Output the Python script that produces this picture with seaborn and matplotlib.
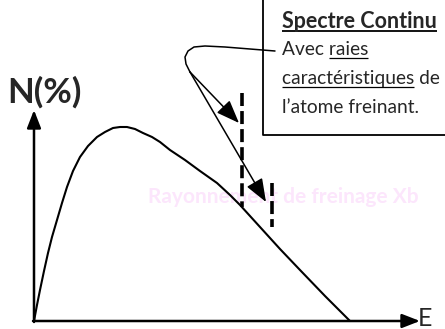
import matplotlib
matplotlib.use("Agg")
import matplotlib.pyplot as plt
import seaborn as sns
import pandas as pd

# ---- data (pixel-like units, y grows downward) ----
curve_E = [34, 37, 40, 44, 48, 52, 57, 62, 67, 73, 80, 88, 97, 105, 113, 120, 127,
           135, 143, 152, 160, 170, 185, 200, 217, 230, 240, 250, 260, 270, 280, 300, 325, 350]
curve_N = [321, 305, 290, 271, 253, 237, 220, 203, 187, 171, 157, 146, 137, 132, 128, 127, 127,
           129, 133, 137, 142, 150, 160, 171, 183, 195, 205, 216, 227, 238, 249, 270, 296, 321]

line1_x, line1_y = [242, 242], [93, 207]      # dashed line (raie 1)
line2_x, line2_y = [272, 272], [183, 227]      # dashed line (raie 2)

callout_x = [275, 250, 225, 205, 194, 188, 185, 186, 190]
callout_y = [51, 49, 47, 46, 47, 51, 57, 64, 72]

title_txt = "Spectre Continu"
body_lines = ["Avec raies", "caractéristiques de", "l’atome freinant."]

sns.set_style("white")
plt.rcParams['font.family'] = ['Lato', 'DejaVu Sans']

fig = plt.figure(figsize=(4.45, 3.29), dpi=100)
ax = fig.add_axes([0, 0, 1, 1])
ax.set_xlim(0, 445)
ax.set_ylim(329, 0)
ax.axis('off')

# faint pink ghost text
ax.text(148, 203, 'Rayonnement de freinage Xb', fontsize=15, fontweight='bold',
        color='#fce6fc', va='baseline', ha='left', zorder=0)

# spectrum curve
df = pd.DataFrame({'E': curve_E, 'N': curve_N})
sns.lineplot(data=df, x='E', y='N', sort=False, color='black', lw=1.5, ax=ax)

# axes arrows
arr = dict(arrowstyle='-|>,head_length=0.9,head_width=0.35', color='black', lw=1.8,
           shrinkA=0, shrinkB=0, mutation_scale=12)
ax.annotate('', xy=(34, 110), xytext=(34, 322), arrowprops=arr)
ax.annotate('', xy=(420, 321), xytext=(33, 321), arrowprops=arr)
ax.text(7, 103, 'N(%)', fontsize=25, fontweight='bold', va='baseline', ha='left')
ax.text(418, 326, 'E', fontsize=18, va='baseline', ha='left')

# characteristic lines (dashed)
ax.plot(line1_x, line1_y, color='black', lw=2.6, dashes=(3.6, 1.4), solid_capstyle='butt')
ax.plot(line2_x, line2_y, color='black', lw=2.6, dashes=(3.6, 1.4), solid_capstyle='butt')

# callout pointer
ax.plot(callout_x, callout_y, color='black', lw=1.1)
thin = dict(arrowstyle='-|>,head_length=1.3,head_width=0.5', color='black', lw=1.1,
            shrinkA=0, shrinkB=0, mutation_scale=11)
ax.annotate('', xy=(239, 123), xytext=(callout_x[-1], callout_y[-1]), arrowprops=thin)
ax.annotate('', xy=(266, 202), xytext=(callout_x[-1], callout_y[-1]), arrowprops=thin)

# callout box
ax.plot([263, 263, 446], [-1, 135, 135], color='black', lw=1.3)

tx = 282
fs_title, fs_body = 15.5, 13.8
ax.text(tx, 28, title_txt, fontsize=fs_title, fontweight='bold', va='baseline')
for s, yb in zip(body_lines, [55, 84, 113]):
    ax.text(tx, yb, s, fontsize=fs_body, va='baseline')

# underlines (measured from rendered text)
fig.canvas.draw()
r = fig.canvas.get_renderer()


def width(s, **kw):
    t = ax.text(0, 0, s, **kw)
    bb = t.get_window_extent(r)
    t.remove()
    return bb.width


def uline(x0, x1, y, lw):
    ax.plot([x0, x1], [y, y], color='black', lw=lw, solid_capstyle='butt')


wt = width(title_txt, fontsize=fs_title, fontweight='bold')
uline(tx, tx + wt, 31, 1.3)
wf = width(body_lines[0], fontsize=fs_body)
wr = width('raies', fontsize=fs_body)
uline(tx + wf - wr, tx + wf, 58, 0.9)
wc = width('caractéristiques', fontsize=fs_body)
uline(tx, tx + wc, 87, 0.9)

fig.savefig('out.png', dpi=100)
